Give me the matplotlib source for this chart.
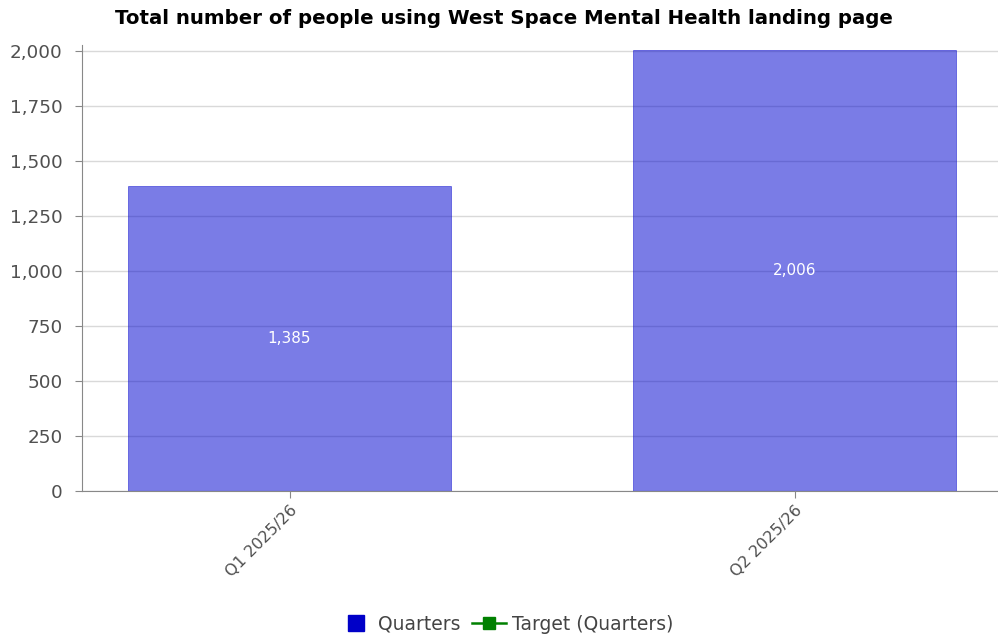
import matplotlib.pyplot as plt
from matplotlib.lines import Line2D
from matplotlib.ticker import FuncFormatter

quarters = ['Q1 2025/26', 'Q2 2025/26']
people = [1385, 2006]

fig = plt.figure(figsize=(9.98, 6.38), dpi=100)
ax = fig.add_axes([82/998, 147/638, 916/998, 446/638])

ax.grid(axis='y', color='#d9d9d9', linewidth=1, zorder=0)
ax.set_axisbelow(True)
x = range(len(quarters))
bars = ax.bar(x, people, width=0.64, color=(0, 0.016, 0.81), alpha=0.52,
              edgecolor=(0, 0, 0.8), linewidth=0.6, zorder=2)
for xi, v in zip(x, people):
    ax.text(xi, v / 2, f'{v:,}', color='white', ha='center', va='center', fontsize=11, zorder=3)

ax.set_xlim(-0.411, 1.403)
ax.set_ylim(0, 2027)
ax.set_yticks(range(0, 2001, 250))
ax.yaxis.set_major_formatter(FuncFormatter(lambda v, p: f'{int(v):,}'))
ax.set_xticks(list(x))
ax.set_xticklabels(quarters, rotation=45, ha='right', rotation_mode='anchor')
ax.tick_params(colors='#888888', labelcolor='#505050', length=5)
ax.tick_params(axis='y', labelsize=13.2, pad=9)
ax.tick_params(axis='x', labelsize=11.5)
for s in ['top', 'right']:
    ax.spines[s].set_visible(False)
for s in ['left', 'bottom']:
    ax.spines[s].set_color('#888888')

fig.text(504/998, 1 - 18/638, 'Total number of people using West Space Mental Health landing page',
         ha='center', va='center', fontsize=14.2, fontweight='bold')

handles = [Line2D([], [], marker='s', linestyle='none', color='#0000c8', markersize=11),
           Line2D([], [], marker='s', color='green', markersize=9, linewidth=1.8)]
fig.legend(handles, ['Quarters', 'Target (Quarters)'], loc='center', bbox_to_anchor=(506/998, 1 - 624/638),
           ncol=2, frameon=False, fontsize=13.5, labelcolor='#444444', handlelength=1.8,
           handletextpad=0.3, columnspacing=0.6)

fig.savefig('out.png', dpi=100)
